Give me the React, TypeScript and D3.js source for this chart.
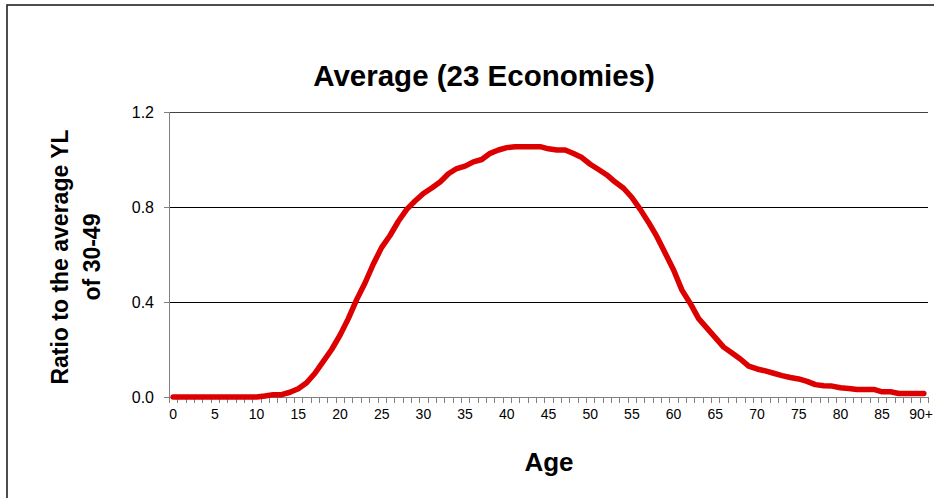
import React from "react";
import * as d3 from "d3";

const ages: string[] = Array.from({ length: 91 }, (_, i) => (i === 90 ? "90+" : String(i)));
const ratioValues: number[] = [
  0, 0, 0, 0, 0, 0, 0, 0, 0, 0,
  0, 0.004, 0.01, 0.01, 0.02, 0.035, 0.06, 0.1, 0.15, 0.2,
  0.26, 0.33, 0.41, 0.48, 0.56, 0.63, 0.68, 0.74, 0.79, 0.825,
  0.857, 0.88, 0.905, 0.94, 0.962, 0.972, 0.99, 1.0, 1.026, 1.04,
  1.05, 1.054, 1.054, 1.054, 1.054, 1.045, 1.04, 1.04, 1.025, 1.008,
  0.98, 0.958, 0.935, 0.905, 0.879, 0.84, 0.79, 0.735, 0.675, 0.605,
  0.535, 0.45, 0.394, 0.33, 0.29, 0.25, 0.21, 0.185, 0.16, 0.13,
  0.118, 0.11, 0.1, 0.09, 0.082, 0.076, 0.066, 0.052, 0.047, 0.046,
  0.039, 0.036, 0.032, 0.032, 0.032, 0.022, 0.022, 0.015, 0.015, 0.015,
  0.015,
];
const yTicks: number[] = [0, 0.4, 0.8, 1.2];
const xLabelEvery = 5;

const title = "Average (23 Economies)";
const yTitle1 = "Ratio to the average YL";
const yTitle2 = "of 30-49";
const xTitle = "Age";

export default function App() {
  const W = 934, H = 498;
  const left = 169, right = 928, top = 112, bottom = 397;
  const x = d3.scaleBand<string>().domain(ages).range([left, right]).padding(0);
  const y = d3.scaleLinear().domain([0, 1.2]).range([bottom, top]);
  const line = d3
    .line<number>()
    .x((_, i) => (x(ages[i]) as number) + x.bandwidth() / 2)
    .y((d) => y(d))
    .curve(d3.curveLinear);
  const font = "'Liberation Sans', Arial, sans-serif";
  const bw = x.bandwidth();
  const px = (v: number) => Math.round(v) + 0.5;

  return (
    <svg
      width={W}
      height={H}
      style={{ position: "absolute", left: 0, top: 0, background: "#fff" }}
      fontFamily={font}
    >
      <rect x={0} y={0} width={W} height={H} fill="#fff" />
      <rect x={7} y={5} width={W + 20} height={H + 20} fill="none" stroke="#222" strokeWidth={1.6} />
      <text x={484} y={86} textAnchor="middle" fontSize={29.5} fontWeight="bold" fill="#000">
        {title}
      </text>
      {/* gridlines */}
      {yTicks.filter((t) => t > 0).map((t) => (
        <line key={t} x1={left} x2={right} y1={px(y(t))} y2={px(y(t))} stroke={t === 1.2 ? "#444" : "#000"} strokeWidth={1} />
      ))}
      {/* y axis */}
      <line x1={px(left)} x2={px(left)} y1={top} y2={bottom} stroke="#808080" strokeWidth={1} />
      {yTicks.map((t) => (
        <g key={"yt" + t}>
          <line x1={left - 5} x2={left} y1={px(y(t))} y2={px(y(t))} stroke="#808080" />
          <text x={154} y={y(t) + 6} textAnchor="end" fontSize={16} fill="#000">
            {t.toFixed(1)}
          </text>
        </g>
      ))}
      {/* x axis */}
      <line x1={left} x2={right} y1={px(bottom)} y2={px(bottom)} stroke="#808080" strokeWidth={1} />
      {ages.map((a, i) => (
        <line key={"xt" + i} x1={px(x(a) as number)} x2={px(x(a) as number)} y1={bottom} y2={bottom + 6} stroke="#808080" />
      ))}
      <line x1={px(right)} x2={px(right)} y1={bottom} y2={bottom + 6} stroke="#808080" />
      {ages.map((a, i) => {
        if (i % xLabelEvery !== 0) return null;
        const last = i === ages.length - 1;
        return (
          <text
            key={"xl" + i}
            x={last ? W - 1 : (x(a) as number) + bw / 2}
            y={bottom + 22}
            textAnchor={last ? "end" : "middle"}
            fontSize={14}
            fill="#000"
          >
            {a}
          </text>
        );
      })}
      <path d={line(ratioValues) || ""} fill="none" stroke="#dd0000" strokeWidth={5.5} strokeLinejoin="round" strokeLinecap="round" />
      <text x={549} y={471} textAnchor="middle" fontSize={26} fontWeight="bold" fill="#000">
        {xTitle}
      </text>
      <g transform="translate(0,257) rotate(-90)">
        <text x={0} y={68} textAnchor="middle" fontSize={23} fontWeight="bold" fill="#000">
          {yTitle1}
        </text>
        <text x={0} y={100} textAnchor="middle" fontSize={23} fontWeight="bold" fill="#000">
          {yTitle2}
        </text>
      </g>
    </svg>
  );
}
